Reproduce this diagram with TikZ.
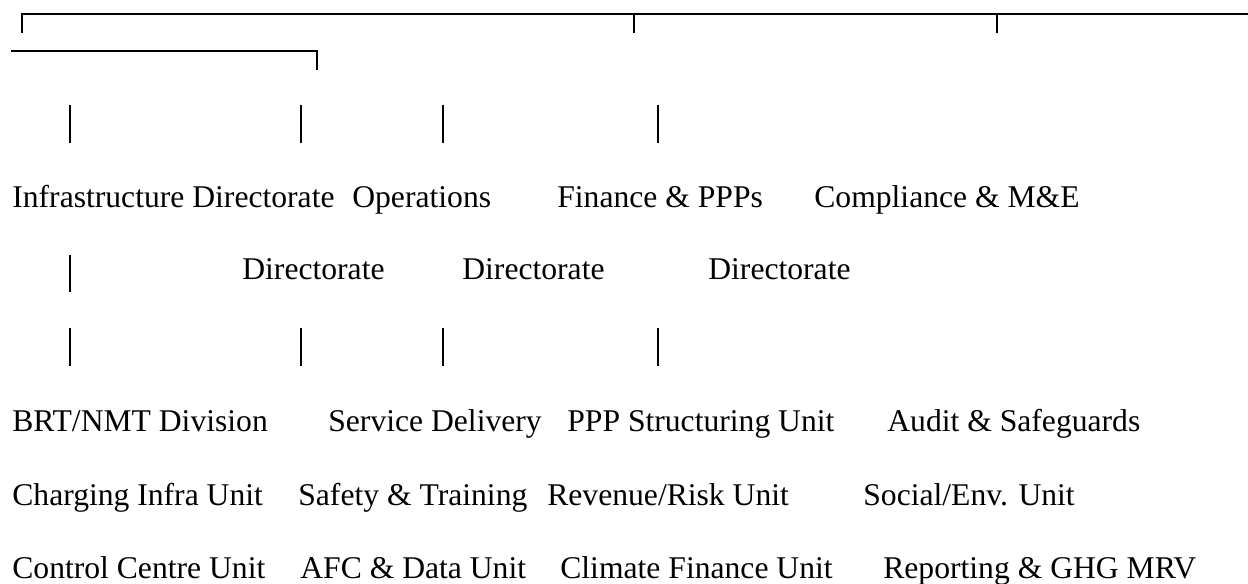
\documentclass[tikz,border=0pt]{standalone}
\usepackage{fontspec}
\setmainfont{Liberation Serif}
\usetikzlibrary{positioning}

\begin{document}
\begin{tikzpicture}[
    x=0.02cm, y=-0.02cm,
    unit/.style={anchor=base west,inner sep=0pt,font=\fontsize{18}{20}\selectfont},
    rule/.style={line width=1.4pt},
    bar/.style={line width=1.1pt}
    ]
    \useasboundingbox (0,0) rectangle (1248,584);

    % top rules
    \coordinate (r0) at (22,33);
    \draw[rule] (r0) -- (22,14) -- (1248,14);
    \draw[rule] (634,14) -- ++(0,19);
    \draw[rule] (997,14) -- ++(0,19);
    \coordinate (r1) at (11,51);
    \draw[rule] (r1) -- ++(306,0) -- ++(0,19);

    % directorates
    \node (infra) [unit] at (12,208) {Infrastructure Directorate};
    \node (ops) [unit] at (352,208) {Operations};
    \node (fin) [unit] at (557,208) {Finance \& PPPs};
    \node (comp) [unit] at (814,208) {Compliance \& M\&E};
    \node (opsdir) [unit] at (242,280) {Directorate};
    \node (findir) [unit] at (462,280) {Directorate};
    \node (compdir) [unit] at (708,280) {Directorate};

    % units
    \node (brt) [unit] at (12,431) {BRT/NMT Division};
    \node (service) [unit] at (328,431) {Service Delivery};
    \node (ppp) [unit] at (567,431) {PPP Structuring Unit};
    \node (audit) [unit] at (887,431) {Audit \& Safeguards};

    \node (charging) [unit] at (12,505) {Charging Infra Unit};
    \node (safety) [unit] at (298,505) {Safety \& Training};
    \node (revenue) [unit] at (547,505) {Revenue/Risk Unit};
    \node (social) [unit] at (863,505) {Social/Env. Unit};

    \node (control) [unit] at (12,578) {Control Centre Unit};
    \node (afc) [unit] at (300,578) {AFC \& Data Unit};
    \node (climate) [unit] at (560,578) {Climate Finance Unit};
    \node (reporting) [unit] at (883,578) {Reporting \& GHG MRV};

    % bars
    \foreach \x [count=\i] in {70,301,443,658} {
      \coordinate (a\i) at (\x,105);
      \draw[bar] (a\i) -- ++(0,38);
      \coordinate (c\i) at (\x,328);
      \draw[bar] (c\i) -- ++(0,38);
    }
    \coordinate (b1) at (70,255);
    \draw[bar] (b1) -- ++(0,37);

  \end{tikzpicture}
\end{document}
